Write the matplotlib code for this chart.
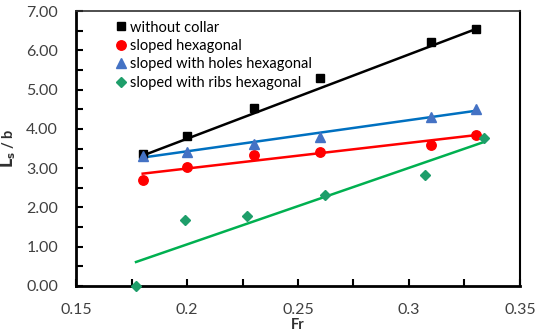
import numpy as np
import matplotlib.pyplot as plt
from matplotlib.ticker import MultipleLocator, FormatStrFormatter

plt.rcParams["font.family"] = ["Lato", "DejaVu Sans"]

# Froude number and scour depth ratio for each collar type
fr_plain = [0.180, 0.200, 0.230, 0.260, 0.310, 0.330]
ls_plain = [3.35, 3.83, 4.54, 5.29, 6.20, 6.54]

fr_sloped = [0.180, 0.200, 0.230, 0.260, 0.310, 0.330]
ls_sloped = [2.70, 3.04, 3.33, 3.41, 3.60, 3.84]

fr_holes = [0.180, 0.200, 0.230, 0.260, 0.310, 0.330]
ls_holes = [3.31, 3.41, 3.62, 3.79, 4.31, 4.50]

fr_ribs = [0.177, 0.199, 0.227, 0.262, 0.307, 0.334]
ls_ribs = [0.00, 1.69, 1.77, 2.31, 2.82, 3.77]

# linear trendline end points (Fr range, Ls/b at both ends)
trend_plain = ([0.180, 0.330], [3.32, 6.54])
trend_sloped = ([0.180, 0.330], [2.86, 3.84])
trend_holes = ([0.180, 0.330], [3.27, 4.46])
trend_ribs = ([0.177, 0.334], [0.61, 3.67])

series = [
    ("without collar", fr_plain, ls_plain, trend_plain, "s", "black", "black", 6.2),
    ("sloped hexagonal", fr_sloped, ls_sloped, trend_sloped, "o", "#FF0000", "#FF0000", 6.8),
    ("sloped with holes hexagonal", fr_holes, ls_holes, trend_holes, "^", "#4472C4", "#0070C0", 7.2),
    ("sloped with ribs hexagonal", fr_ribs, ls_ribs, trend_ribs, "D", "#1E9E6A", "#00B050", 4.8),
]

fig = plt.figure(figsize=(5.36, 3.36), dpi=100)
ax = fig.add_axes([0.142, 0.149, 0.828, 0.818])

for label, x, y, trend, mk, mcol, lcol, ms in series:
    ax.plot(trend[0], trend[1], color=lcol, lw=1.8, zorder=2)
    ax.plot(x, y, linestyle="none", marker=mk, color=mcol, markersize=ms,
            markeredgecolor=mcol, label=label, zorder=3, clip_on=False)

ax.set_xlim(0.15, 0.35)
ax.set_ylim(0, 7)
ax.xaxis.set_major_locator(MultipleLocator(0.05))
ax.xaxis.set_minor_locator(MultipleLocator(0.025))
ax.yaxis.set_major_locator(MultipleLocator(1))
ax.yaxis.set_minor_locator(MultipleLocator(0.5))
ax.yaxis.set_major_formatter(FormatStrFormatter("%.2f"))
ax.xaxis.set_major_formatter(lambda v, p: f"{v:g}")

ax.tick_params(which="both", direction="in", length=5, width=1.5,
               labelsize=11.5, labelcolor="#404040", top=False, right=False)
ax.tick_params(axis="x", pad=12)
ax.tick_params(axis="y", pad=13)
for side in ("left", "bottom"):
    ax.spines[side].set_linewidth(2)
    ax.spines[side].set_color("black")
ax.spines["top"].set_linewidth(1.2)
ax.spines["top"].set_color("#303030")
ax.spines["right"].set_linewidth(1.5)
ax.spines["right"].set_color("black")

ax.set_xlabel("Fr", fontsize=10.5, fontweight="bold", color="#303030", labelpad=1)
ax.set_ylabel(r"$\mathbf{L_s}$ / b", fontsize=10.5, fontweight="bold",
              color="#303030", labelpad=6)

leg = ax.legend(loc="upper left", bbox_to_anchor=(0.055, 1.0), frameon=False,
                fontsize=10.5, handletextpad=-0.1, handlelength=1.5,
                labelspacing=0.3, borderaxespad=0.25)

fig.savefig("out.png", dpi=100)
